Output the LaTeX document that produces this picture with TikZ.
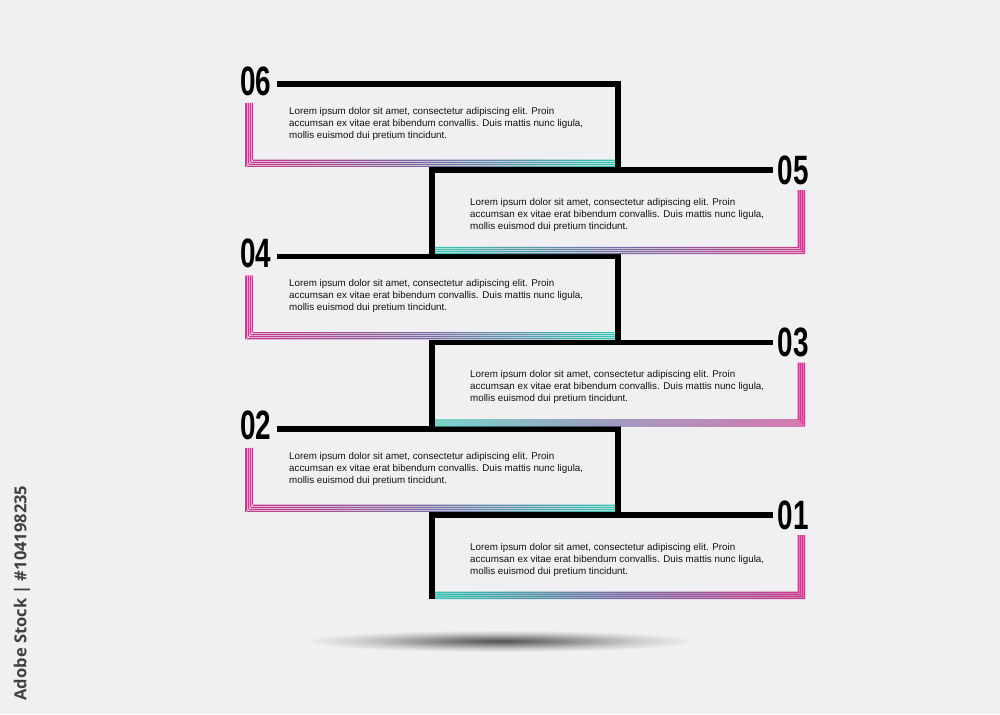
\documentclass[tikz,border=0pt]{standalone}
\usepackage{fontspec}
\setmainfont{Liberation Sans}
\newfontfamily\markfont{Open Sans}
\definecolor{bgc}{RGB}{240,240,242}
\definecolor{pinkc}{RGB}{204,58,140}
\definecolor{midc}{RGB}{120,108,164}
\definecolor{tealc}{RGB}{56,198,180}
\definecolor{inkc}{RGB}{18,18,18}
\pgfdeclareradialshading{floorshadow}{\pgfpoint{0bp}{0bp}}{color(0bp)=(black!66!bgc); color(9bp)=(black!40!bgc); color(17bp)=(black!16!bgc); color(25bp)=(bgc); color(50bp)=(bgc)}
\newcommand{\loremtext}{Lorem ipsum dolor sit amet, consectetur adipiscing elit. Proin\\ accumsan ex vitae erat bibendum convallis. Duis mattis nunc ligula,\\ mollis euismod dui pretium tincidunt.}
\tikzset{
  blackline/.style={line width=5.5pt, draw=black, line join=miter},
  numlabel/.style={font=\fontsize{41}{41}\selectfont\bfseries, xscale=0.68, inner sep=0pt, text=black},
  bodytext/.style={font=\fontsize{9.8}{12}\selectfont, text=inkc, align=left, anchor=north west, inner sep=0pt},
}
\begin{document}
\begin{tikzpicture}[x=1pt, y=-1pt]
	\useasboundingbox (0,0) rectangle (1000,714);
	\fill[bgc] (0,0) rectangle (1000,714);
	\shade[shading=floorshadow] (500,641) ellipse (195 and 11);
	% left boxes
	\foreach \k/\n in {0/06,2/04,4/02}{
		\pgfmathsetmacro{\yt}{84+86.2*\k}
		\begin{scope}
			\clip \foreach \i in {0,...,3}{ (245.5+2*\i,\yt+19) rectangle ++(1.3,64-2*\i) (245.5+2*\i,\yt+83-2*\i) rectangle (615,\yt+81.7-2*\i) };
			\shade[left color=pinkc, right color=tealc, middle color=midc] (245,\yt+15) rectangle (615,\yt+85);
		\end{scope}
		\draw[blackline] (277,\yt) -- (618,\yt) -- (618,\yt+86.2);
		\node[numlabel] (num\n) at (256,\yt-3) {\n};
		\node[bodytext] (txt\n) at (289,\yt+23) {\loremtext};
	}
	% right boxes
	\foreach \k/\n/\e in {1/05/86.2,3/03/86.2,5/01/84}{
		\pgfmathsetmacro{\yt}{84+86.2*\k}
		\begin{scope}
			\clip \foreach \i in {0,...,3}{ (803.7-2*\i,\yt+20) rectangle (805-2*\i,\yt+84-2*\i) (435,\yt+82.7-2*\i) rectangle (805-2*\i,\yt+84-2*\i) };
			\shade[left color=tealc, right color=pinkc, middle color=midc] (435,\yt+15) rectangle (805,\yt+85);
		\end{scope}
		\draw[blackline] (773,\yt) -- (432,\yt) -- (432,\yt+\e);
		\node[numlabel] (num\n) at (793,\yt) {\n};
		\node[bodytext] (txt\n) at (470,\yt+28) {\loremtext};
	}
	\node[rotate=90, font=\markfont\bfseries\fontsize{16.5}{16.5}\selectfont, text=black!75, inner sep=0pt] (stockmark) at (22,593) {Adobe Stock | \#104198235};
\end{tikzpicture}
\end{document}
